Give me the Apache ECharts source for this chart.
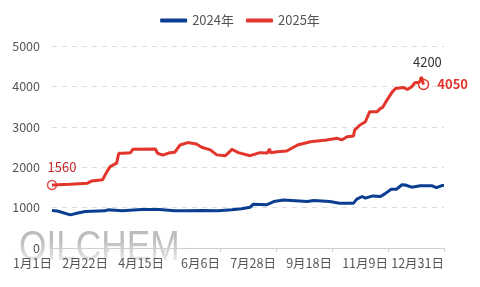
<!DOCTYPE html>
<html>
<head>
<meta charset="utf-8">
<script src="https://cdn.jsdelivr.net/npm/echarts@6/dist/echarts.min.js"></script>
<style>html,body{margin:0;padding:0;background:#fff}#c{width:480px;height:287px}</style>
</head>
<body>
<div id="c"></div>
<script>
var seriesNames = ['2024年', '2025年'];
var xTickLabels = ['1月1日', '2月22日', '4月15日', '6月6日', '7月28日', '9月18日', '11月9日', '12月31日'];
var yTicks = [0, 1000, 2000, 3000, 4000, 5000];

// day-of-year index (0 = 1月1日) and price
var days2024 = [0, 5, 17, 24, 31, 49, 52, 65, 83, 100, 114, 124, 139, 154, 167, 176, 184, 187, 199, 206, 215, 237, 243, 258, 267, 280, 283, 288, 291, 298, 305, 309, 315, 320, 325, 328, 334, 342, 353, 357, 362, 364];
var vals2024 = [930, 915, 820, 865, 905, 920, 945, 920, 955, 955, 920, 920, 930, 920, 945, 970, 1010, 1085, 1070, 1150, 1190, 1150, 1175, 1150, 1110, 1110, 1210, 1275, 1235, 1290, 1275, 1340, 1455, 1455, 1565, 1560, 1505, 1540, 1540, 1495, 1545, 1545];

var days2025 = [0, 5, 17, 33, 37, 47, 51, 54, 60, 62, 66, 73, 75, 96, 98, 103, 108, 114, 119, 126, 134, 139, 147, 153, 161, 165, 167, 173, 184, 193, 200, 202, 203, 209, 218, 228, 240, 255, 265, 269, 274, 280, 281, 286, 291, 295, 302, 305, 307, 311, 316, 319, 326, 330, 334, 337, 341, 343, 345];
var vals2025 = [1560, 1565, 1580, 1605, 1660, 1690, 1890, 2015, 2100, 2345, 2345, 2360, 2445, 2450, 2345, 2300, 2350, 2370, 2550, 2610, 2575, 2495, 2430, 2305, 2285, 2385, 2445, 2360, 2285, 2360, 2350, 2450, 2360, 2385, 2400, 2550, 2630, 2675, 2715, 2675, 2755, 2770, 2920, 3045, 3125, 3375, 3375, 3455, 3480, 3660, 3865, 3950, 3975, 3925, 3990, 4090, 4100, 4200, 4050];

function zip(d, v) { return d.map(function (x, i) { return [x, v[i]]; }); }

var BLUE = '#0b3d91';
var RED = '#e2352b';
var FONT = '"Noto Sans CJK SC", "Noto Sans", sans-serif';

var chart = echarts.init(document.getElementById('c'), null, { renderer: 'canvas' });
var last25 = days2025.length - 1;

chart.setOption({
  animation: false,
  textStyle: { fontFamily: FONT },
  graphic: {
    elements: [{
      type: 'text',
      left: 19,
      top: 227,
      z: -20,
      scaleX: 0.82,
      silent: true,
      style: {
        text: 'OILCHEM',
        fontSize: 43,
        fontFamily: '"Liberation Sans", Arial, sans-serif',
        fill: '#bdbdbd'
      }
    }, {
      type: 'rect',
      left: 15,
      top: 240,
      z: -19,
      silent: true,
      shape: { width: 175, height: 22 },
      style: {
        fill: {
          type: 'linear', x: 0, y: 0, x2: 0, y2: 1,
          colorStops: [{ offset: 0, color: 'rgba(255,255,255,0)' }, { offset: 1, color: 'rgba(255,255,255,0.7)' }]
        }
      }
    }]
  },
  legend: {
    top: 9,
    left: 'center',
    icon: 'roundRect',
    itemWidth: 27,
    itemHeight: 4,
    itemGap: 12,
    textStyle: { color: '#555', fontSize: 13, fontFamily: FONT },
    data: seriesNames
  },
  grid: { left: 52, right: 36, top: 46, bottom: 39, containLabel: false },
  xAxis: {
    type: 'value',
    min: 0,
    max: 364,
    interval: 52,
    z: 5,
    axisLine: { show: true, lineStyle: { color: '#cfcfcf' } },
    axisTick: { show: true, length: 4, lineStyle: { color: '#cfcfcf' } },
    splitLine: { show: false },
    axisLabel: {
      color: '#555',
      fontSize: 12.5,
      align: 'right',
      margin: 9,
      fontFamily: FONT,
      formatter: function (v) { return xTickLabels[Math.round(v / 52)]; }
    }
  },
  yAxis: {
    type: 'value',
    min: yTicks[0],
    max: yTicks[yTicks.length - 1],
    interval: 1000,
    z: 5,
    axisLine: { show: false },
    axisTick: { show: false },
    axisLabel: { color: '#555', fontSize: 12.5, margin: 12, fontFamily: FONT, formatter: function (v) { return String(v); } },
    splitLine: { show: true, lineStyle: { color: '#dcdcdc', type: [5, 5], width: 1 } }
  },
  series: [
    {
      name: seriesNames[0],
      type: 'line',
      data: zip(days2024, vals2024),
      showSymbol: false,
      lineStyle: { color: BLUE, width: 3 },
      itemStyle: { color: BLUE },
      z: 6
    },
    {
      name: seriesNames[1],
      type: 'line',
      data: zip(days2025, vals2025),
      showSymbol: false,
      lineStyle: { color: RED, width: 3 },
      itemStyle: { color: RED },
      z: 7,
      markPoint: {
        silent: true,
        data: [
          {
            coord: [days2025[0], vals2025[0]], value: vals2025[0],
            symbol: 'circle', symbolSize: 9,
            itemStyle: { color: '#fff', borderColor: '#d9534f', borderWidth: 1.5 },
            label: { show: true, position: 'top', offset: [10, -1], color: '#c62828', fontSize: 13, fontFamily: FONT }
          },
          {
            type: 'max', name: 'max',
            symbol: 'circle', symbolSize: 4,
            itemStyle: { color: RED },
            label: { show: true, position: 'top', offset: [6, -3], color: '#333', fontSize: 13, fontFamily: FONT }
          },
          {
            coord: [days2025[last25], vals2025[last25]], value: vals2025[last25],
            symbol: 'circle', symbolSize: 10,
            itemStyle: { color: '#fff', borderColor: RED, borderWidth: 1.5 },
            label: { show: true, position: 'right', offset: [3, 0], color: RED, fontWeight: 'bold', fontSize: 13, fontFamily: FONT }
          }
        ]
      }
    }
  ]
});
</script>
</body>
</html>
